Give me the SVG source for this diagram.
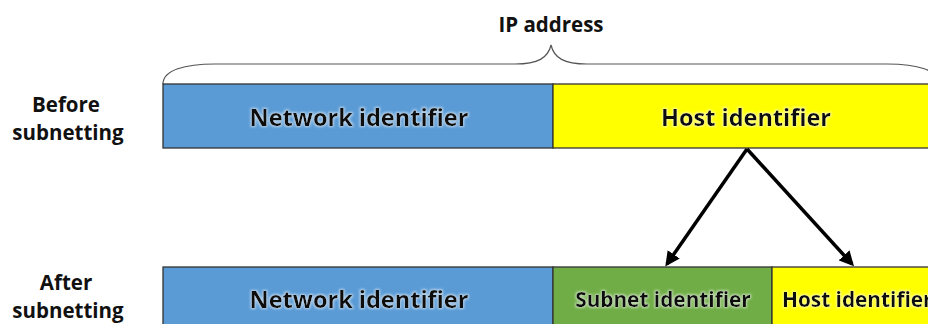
<svg xmlns="http://www.w3.org/2000/svg" width="928" height="324" viewBox="0 0 928 324">
<defs>
<style>
.lbl{font-family:"Open Sans","Liberation Sans",sans-serif;font-weight:bold;fill:#111;text-anchor:middle}
.in{font-family:"Open Sans","Liberation Sans",sans-serif;font-weight:bold;fill:#111;text-anchor:middle;filter:url(#glow)}
.bar{stroke:#333;stroke-width:1.3}
.conn{stroke:#000;stroke-width:3.5;fill:none;marker-end:url(#ah)}
</style>
<filter id="glow" x="-10%" y="-30%" width="120%" height="160%">
<feMorphology in="SourceAlpha" operator="dilate" radius="1.2" result="d"/>
<feGaussianBlur in="d" stdDeviation="1.2" result="b"/>
<feFlood flood-color="#ffffff" flood-opacity="0.55"/>
<feComposite in2="b" operator="in" result="g"/>
<feMerge><feMergeNode in="g"/><feMergeNode in="SourceGraphic"/></feMerge>
</filter>
<marker id="ah" viewBox="0 0 10 10" refX="8" refY="5" markerWidth="4.2" markerHeight="4.2" orient="auto" markerUnits="strokeWidth">
<path d="M0,0 L10,5 L0,10 z" fill="#000"/>
</marker>
</defs>
<rect width="928" height="324" fill="#fff"/>
<g id="ip-address">
<text class="lbl" x="551" y="32" font-size="20.5">IP address</text>
<path d="M163,84 C163,70 185,64 215,64 L515,64 C538,64 548,58 551,45 C554,58 564,64 587,64 L887,64 C917,64 939,70 939,84" fill="none" stroke="#555" stroke-width="1.2"/>
</g>
<g id="before-label">
<text class="lbl" x="66" y="112" font-size="20.5">Before</text>
<text class="lbl" x="68" y="140" font-size="20.5">subnetting</text>
</g>
<g id="after-label">
<text class="lbl" x="66" y="290" font-size="20.5">After</text>
<text class="lbl" x="68" y="318" font-size="20.5">subnetting</text>
</g>
<g id="top-network">
<rect class="bar" x="163" y="84" width="390" height="64" fill="#5b9bd5"/>
<text class="in" x="359" y="126" font-size="23.5">Network identifier</text>
</g>
<g id="top-host">
<rect class="bar" x="553" y="84" width="390" height="64" fill="#ffff00"/>
<text class="in" x="746" y="126" font-size="23.5">Host identifier</text>
</g>
<g id="bottom-network">
<rect class="bar" x="163" y="267" width="390" height="70" fill="#5b9bd5"/>
<text class="in" x="359" y="308" font-size="23.5">Network identifier</text>
</g>
<g id="bottom-subnet">
<rect class="bar" x="553" y="267" width="219" height="70" fill="#70ad47"/>
<text class="in" x="663" y="307" font-size="20.8">Subnet identifier</text>
</g>
<g id="bottom-host">
<rect class="bar" x="772" y="267" width="180" height="70" fill="#ffff00"/>
<text class="in" x="782" y="307" font-size="20.8" style="text-anchor:start">Host identifier</text>
</g>
<g id="connectors">
<line class="conn" x1="747" y1="149" x2="667" y2="264"/>
<line class="conn" x1="747" y1="149" x2="852" y2="264"/>
</g>
</svg>
